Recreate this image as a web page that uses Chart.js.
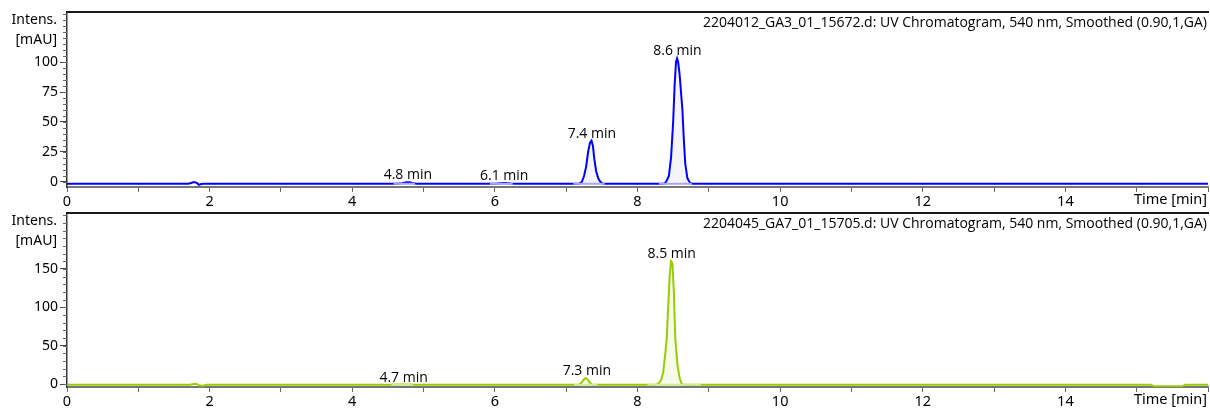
<!DOCTYPE html>
<html><head><meta charset="utf-8">
<script src="https://cdn.jsdelivr.net/npm/chart.js@4/dist/chart.umd.min.js"></script>
<style>
html,body{margin:0;padding:0;background:#fff;width:1210px;height:411px;overflow:hidden;}
.wrap{position:absolute;left:0;width:1210px;height:211px;}
#w1{top:0}
#w2{top:200px}
</style></head><body>
<div class="wrap" id="w1"><canvas id="c1" width="1210" height="211"></canvas></div>
<div class="wrap" id="w2"><canvas id="c2" width="1210" height="211"></canvas></div>
<script>
// ---------- data ----------
const xTickValues = [0,1,2,3,4,5,6,7,8,9,10,11,12,13,14,15,16];
const xTickLabels = ['0','','2','','4','','6','','8','','10','','12','','14','',''];

const topTitle = '2204012_GA3_01_15672.d: UV Chromatogram, 540 nm, Smoothed (0.90,1,GA)';
const topYTicks = [0,25,50,75,100];
const topYTickLabels = ['0','25','50','75','100'];
const blueTime = [0,1.70,1.74,1.78,1.82,1.85,1.88,1.92,
  4.60,4.70,4.76,4.80,4.84,4.90,
  6.00,6.08,6.15,6.22,6.28,
  7.18,7.22,7.25,7.28,7.31,7.335,7.355,7.375,7.395,7.42,7.45,7.48,7.52,
  8.37,8.40,8.44,8.47,8.50,8.52,8.54,8.555,8.57,8.59,8.61,8.63,8.65,8.67,8.70,8.74,8.78,16];
const blueIntensity = [-1.5,-1.5,-0.8,0.0,-0.8,-2.4,-1.7,-1.5,
  -1.5,-1.1,-0.3,-0.2,-0.9,-1.5,
  -1.5,-1.0,-0.9,-1.3,-1.5,
  -1.5,0,5,13,26,33,34.5,30,19,9,3,0,-1.5,
  -1.5,0,5,20,50,80,100,103,100,90,75,60,35,15,3,-1,-1.5,-1.5];
const blueBaseline = -1.5;
const blueIntegStart = [4.58,5.93,7.10,8.30];
const blueIntegEnd = [4.88,6.25,7.54,8.76];
const bluePeakTimes = [4.78,6.13,7.36,8.56];
const bluePeakHeights = [-0.2,-0.9,34.5,103];
const bluePeakLabels = ['4.8 min','6.1 min','7.4 min','8.6 min'];

const bottomTitle = '2204045_GA7_01_15705.d: UV Chromatogram, 540 nm, Smoothed (0.90,1,GA)';
const bottomYTicks = [0,50,100,150];
const bottomYTickLabels = ['0','50','100','150'];
const greenTime = [0,1.72,1.76,1.80,1.83,1.86,1.92,1.95,
  4.55,4.66,4.72,4.78,4.88,
  7.17,7.21,7.24,7.27,7.30,7.33,7.36,7.39,
  8.26,8.30,8.33,8.36,8.39,8.41,8.43,8.45,8.47,8.49,8.51,8.53,8.56,8.59,8.62,8.65,
  15.20,15.24,15.64,15.68,16];
const greenIntensity = [-1,-1,-0.3,0.3,-0.5,-2,-2.2,-1,
  -1,-0.8,-0.6,-0.8,-1,
  -1,1,5,7.8,6,2,-0.5,-1,
  -1,1,5,15,40,60,100,140,160,157,120,60,25,8,0,-1,
  -1,-3,-3,-1,-1];
const greenBaseline = -1;
const greenIntegStart = [4.55,7.11,8.14];
const greenIntegEnd = [4.85,7.44,8.89];
const greenPeakTimes = [4.72,7.29,8.48];
const greenPeakHeights = [-0.8,7.8,160];
const greenPeakLabels = ['4.7 min','7.3 min','8.5 min'];

// ---------- drawing ----------
const TICK_FONT = {family:'"Noto Sans", sans-serif', size:14};
const LABEL_FONT = '14px "Open Sans", sans-serif';

const deco = {
  id:'deco',
  afterDraw(chart, args, o){
    const {ctx, chartArea:a, scales:{x,y}} = chart;
    ctx.save();
    ctx.strokeStyle = '#1a1a1a'; ctx.lineWidth = 2;
    ctx.beginPath(); ctx.moveTo(a.left-1, a.top); ctx.lineTo(a.right+1, a.top); ctx.stroke();
    ctx.strokeStyle = '#666'; ctx.lineWidth = 1;
    for (let v = Math.ceil(y.min/o.minorStep)*o.minorStep; v <= y.max; v += o.minorStep){
      const py = Math.round(y.getPixelForValue(v)) + 0.5;
      ctx.beginPath(); ctx.moveTo(a.left-4, py); ctx.lineTo(a.left, py); ctx.stroke();
    }
    ctx.fillStyle = '#000';
    ctx.font = '14px "Noto Sans", sans-serif';
    ctx.textAlign = 'right'; ctx.textBaseline = 'middle';
    ctx.fillText('Intens.', 57, a.top+8);
    ctx.fillText('[mAU]', 57, a.top+28);
    ctx.font = '14.5px "Noto Sans", sans-serif';
    ctx.fillText('Time [min]', a.right-1, a.bottom+13);
    ctx.font = LABEL_FONT;
    ctx.fillText(o.title, a.right-1, a.top+11);
    ctx.textAlign = 'center'; ctx.textBaseline = 'alphabetic';
    o.peakTimes.forEach((t,i)=>{
      ctx.fillText(o.peakLabels[i], x.getPixelForValue(t), y.getPixelForValue(o.peakHeights[i]) - 3);
    });
    ctx.restore();
  }
};

function makeChart(id, cfg){
  const pts = cfg.time.map((t,i)=>({x:t, y:cfg.values[i]}));
  const datasets = [{data:pts, borderColor:cfg.color, borderWidth:2, pointRadius:0, tension:0, order:2, fill:false}];
  cfg.integStart.forEach((s,k)=>{
    const e = cfg.integEnd[k];
    const inside = pts.filter(p=>p.x>s && p.x<e);
    datasets.push({data:[{x:s,y:cfg.baseline}, ...inside, {x:e,y:cfg.baseline}],
      borderWidth:0, pointRadius:0, backgroundColor:cfg.fillColor, fill:{value:cfg.baseline}, order:3});
    datasets.push({data:[{x:s,y:cfg.baseline},{x:e,y:cfg.baseline}],
      borderColor:cfg.lightColor, borderWidth:2, pointRadius:0, fill:false, order:1});
  });
  return new Chart(document.getElementById(id), {
    type:'line',
    data:{datasets},
    plugins:[deco],
    options:{
      responsive:false, animation:false, devicePixelRatio:1,
      layout:{padding:{left:0,right:2,top:cfg.padTop,bottom:0}},
      plugins:{legend:{display:false}, tooltip:{enabled:false},
        deco:{minorStep:cfg.minorStep, title:cfg.title, peakTimes:cfg.peakTimes, peakHeights:cfg.peakHeights, peakLabels:cfg.peakLabels}},
      scales:{
        x:{type:'linear', min:0, max:16,
          afterBuildTicks:s=>{s.ticks = xTickValues.map(v=>({value:v}));},
          afterFit:s=>{s.height = 211-187;},
          ticks:{autoSkip:false, maxRotation:0, padding:1, color:'#000', font:{family:'"Noto Sans", sans-serif', size:14.5},
            callback:(v)=>{const i = xTickValues.indexOf(v); return i>=0 ? xTickLabels[i] : '';}},
          grid:{drawOnChartArea:false, tickLength:5, color:'#666', tickWidth:1},
          border:{color:'#777', width:2}},
        y:{type:'linear', min:cfg.yMin, max:cfg.yMax,
          afterBuildTicks:s=>{s.ticks = cfg.yTicks.map(v=>({value:v}));},
          afterFit:s=>{s.width = 67;},
          ticks:{padding:2, color:'#000', font:TICK_FONT,
            callback:(v)=>{const i = cfg.yTicks.indexOf(v); return i>=0 ? cfg.yTickLabels[i] : '';}},
          grid:{drawOnChartArea:false, tickLength:7, color:'#444', tickWidth:1},
          border:{color:'#333', width:1.5}}
      }
    }
  });
}

makeChart('c1', {time:blueTime, values:blueIntensity, color:'#0000ff', lightColor:'#a6a6ff', fillColor:'rgba(200,200,230,0.2)',
  baseline:blueBaseline, integStart:blueIntegStart, integEnd:blueIntegEnd,
  peakTimes:bluePeakTimes, peakHeights:bluePeakHeights, peakLabels:bluePeakLabels,
  title:topTitle, yTicks:topYTicks, yTickLabels:topYTickLabels, yMin:-4.2, yMax:141.7, minorStep:5, padTop:12});
makeChart('c2', {time:greenTime, values:greenIntensity, color:'#99cc00', lightColor:'#d4ea90', fillColor:'rgba(220,238,170,0.25)',
  baseline:greenBaseline, integStart:greenIntegStart, integEnd:greenIntegEnd,
  peakTimes:greenPeakTimes, peakHeights:greenPeakHeights, peakLabels:greenPeakLabels,
  title:bottomTitle, yTicks:bottomYTicks, yTickLabels:bottomYTickLabels, yMin:-3.9, yMax:223, minorStep:10, padTop:13});
</script>
</body></html>
